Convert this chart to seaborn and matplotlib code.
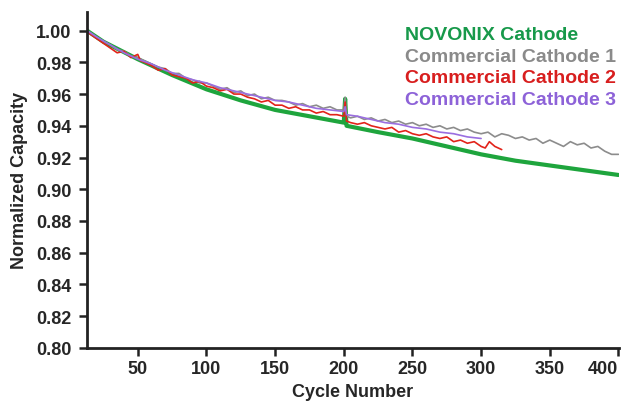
import pandas as pd
import seaborn as sns
import matplotlib.pyplot as plt

# Values
novonix_cycle = [13, 25, 50, 75, 100, 125, 150, 175, 200, 201, 202, 225, 250, 275, 300, 325, 350, 375, 400]
novonix_cap = [1.000, 0.993, 0.982, 0.972, 0.963, 0.956, 0.950, 0.946, 0.942, 0.957, 0.940,
               0.936, 0.932, 0.927, 0.922, 0.918, 0.915, 0.912, 0.909]

comm1_cycle = [13, 15, 20, 25, 30, 35, 40, 45, 50, 55, 60, 65, 70, 75, 80, 85, 90, 95, 100,
               105, 110, 115, 120, 125, 130, 135, 140, 145, 150, 155, 160, 165, 170, 175, 180,
               185, 190, 195, 200, 201, 202, 205, 210, 215, 220, 225, 230, 235, 240, 245, 250,
               255, 260, 265, 270, 275, 280, 285, 290, 295, 300, 305, 310, 315, 320, 325, 330,
               335, 340, 345, 350, 355, 360, 365, 370, 375, 380, 385, 390, 395, 400]
comm1_cap = [1.000, 0.999, 0.996, 0.993, 0.991, 0.988, 0.987, 0.984, 0.983, 0.981, 0.979,
             0.977, 0.976, 0.973, 0.973, 0.970, 0.969, 0.967, 0.967, 0.965, 0.963, 0.964,
             0.961, 0.962, 0.959, 0.960, 0.957, 0.958, 0.956, 0.956, 0.955, 0.953, 0.954,
             0.952, 0.953, 0.951, 0.952, 0.950, 0.950, 0.958, 0.946, 0.945, 0.946, 0.944,
             0.945, 0.943, 0.944, 0.942, 0.943, 0.941, 0.942, 0.940, 0.941, 0.939, 0.940,
             0.938, 0.939, 0.937, 0.938, 0.936, 0.935, 0.936, 0.933, 0.935, 0.934, 0.932,
             0.933, 0.931, 0.932, 0.929, 0.931, 0.929, 0.927, 0.930, 0.928, 0.929, 0.926,
             0.927, 0.924, 0.922, 0.922]

comm2_cycle = [13, 15, 20, 25, 30, 35, 40, 45, 50, 52, 55, 60, 65, 70, 75, 80, 85, 90, 95,
               100, 105, 110, 115, 120, 125, 130, 135, 140, 145, 150, 155, 160, 165, 170, 175,
               180, 185, 190, 195, 200, 201, 202, 205, 210, 215, 220, 225, 230, 235, 240, 245,
               250, 255, 260, 265, 270, 275, 280, 285, 290, 295, 300, 303, 306, 310, 315]
comm2_cap = [0.999, 0.998, 0.995, 0.992, 0.989, 0.986, 0.987, 0.983, 0.985, 0.981, 0.980,
             0.978, 0.975, 0.976, 0.972, 0.971, 0.970, 0.967, 0.968, 0.965, 0.964, 0.962,
             0.963, 0.960, 0.960, 0.958, 0.957, 0.955, 0.956, 0.953, 0.953, 0.951, 0.952,
             0.950, 0.950, 0.948, 0.949, 0.947, 0.947, 0.946, 0.955, 0.943, 0.942, 0.941,
             0.942, 0.940, 0.939, 0.938, 0.939, 0.936, 0.937, 0.935, 0.934, 0.935, 0.933,
             0.932, 0.933, 0.930, 0.931, 0.929, 0.930, 0.927, 0.926, 0.930, 0.927, 0.925]

comm3_cycle = [13, 20, 30, 40, 50, 60, 70, 80, 90, 100, 110, 120, 130, 140, 150, 160, 170,
               180, 190, 200, 201, 202, 210, 220, 230, 240, 250, 260, 270, 280, 290, 300]
comm3_cap = [1.000, 0.996, 0.991, 0.986, 0.982, 0.979, 0.975, 0.972, 0.969, 0.967, 0.964,
             0.962, 0.960, 0.958, 0.956, 0.955, 0.953, 0.951, 0.950, 0.949, 0.952, 0.947,
             0.946, 0.944, 0.942, 0.941, 0.939, 0.938, 0.936, 0.935, 0.933, 0.932]

names = ['NOVONIX Cathode', 'Commercial Cathode 1', 'Commercial Cathode 2', 'Commercial Cathode 3']
line_colors = ['#1ea53d', '#8c8c8c', '#e2231a', '#9a6ee0']
text_colors = ['#17994a', '#8a8a8a', '#d81e1e', '#8d62d8']

series = [(novonix_cycle, novonix_cap), (comm1_cycle, comm1_cap),
          (comm2_cycle, comm2_cap), (comm3_cycle, comm3_cap)]
frames = []
for name, (c, v) in zip(names, series):
    frames.append(pd.DataFrame({'cycle': c, 'capacity': v, 'cathode': name}))
df = pd.concat(frames, ignore_index=True)

sns.set_style('ticks')
plt.rcParams['font.family'] = ['Liberation Sans', 'DejaVu Sans']
plt.rcParams['font.weight'] = 'bold'

fig = plt.figure(figsize=(6.21, 4.02), dpi=100)
ax = fig.add_axes([0.140, 0.132, 0.857, 0.836])

widths = [3.0, 1.2, 1.2, 1.2]
for name, color, lw in zip(names, line_colors, widths):
    sns.lineplot(data=df[df['cathode'] == name], x='cycle', y='capacity', color=color,
                 linewidth=lw, label=name, ax=ax, estimator=None, sort=False)

ax.set_xlim(13, 400.5)
ax.set_ylim(0.80, 1.0118)
ax.set_xticks([50, 100, 150, 200, 250, 300, 350, 400])
ax.set_yticks([0.80, 0.82, 0.84, 0.86, 0.88, 0.90, 0.92, 0.94, 0.96, 0.98, 1.00])
ax.yaxis.set_major_formatter(plt.FormatStrFormatter('%.2f'))
ax.tick_params(labelsize=13, width=1.8, length=6, color='#222222')
ax.tick_params(axis='y', pad=5)
ax.tick_params(axis='x', pad=3)
for lab in ax.get_xticklabels() + ax.get_yticklabels():
    lab.set_fontweight('bold')
ax.get_xticklabels()[-1].set_horizontalalignment('right')

sns.despine(ax=ax)
ax.spines['left'].set_linewidth(2)
ax.spines['bottom'].set_linewidth(2)
ax.spines['left'].set_color('#222222')
ax.spines['bottom'].set_color('#222222')

ax.set_xlabel('Cycle Number', fontsize=13, fontweight='bold', labelpad=4)
ax.set_ylabel('Normalized Capacity', fontsize=13, fontweight='bold', labelpad=6)

leg = ax.legend(loc='upper left', bbox_to_anchor=(0.572, 1.0), frameon=False,
                handlelength=0, handletextpad=0, labelspacing=0.2,
                prop={'size': 14, 'weight': 'bold'}, borderaxespad=0.3)
for text, color in zip(leg.get_texts(), text_colors):
    text.set_color(color)
for h in leg.legend_handles:
    h.set_visible(False)

fig.savefig('out.png', dpi=100)
